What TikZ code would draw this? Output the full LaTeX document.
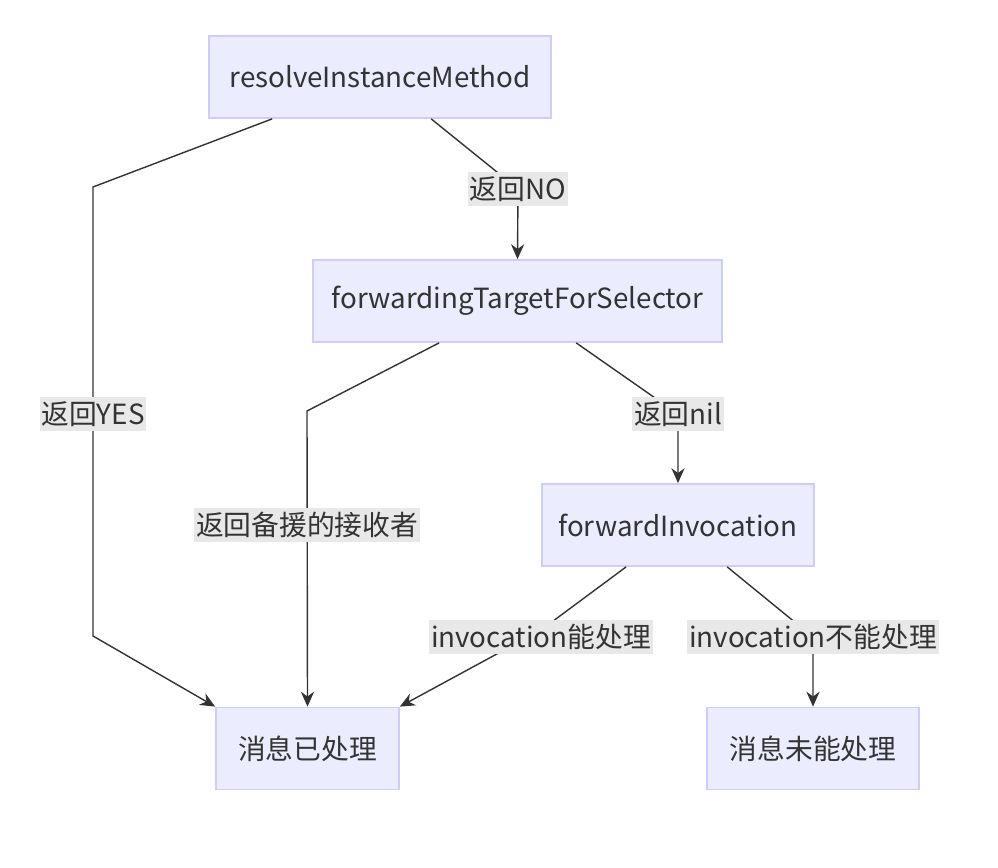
\documentclass[tikz,border=0pt]{standalone}
\usepackage{fontspec}
\setmainfont{Noto Sans CJK SC}
\usetikzlibrary{arrows.meta}
\definecolor{boxfill}{HTML}{ECECFF}
\definecolor{boxline}{HTML}{CCCCFF}
\definecolor{lblfill}{HTML}{E8E8E8}
\definecolor{ink}{HTML}{333333}
\begin{document}
\begin{tikzpicture}[x=0.02cm,y=-0.02cm,
    state/.style={draw=boxline,fill=boxfill,line width=1pt,text=ink,
      font=\fontsize{15.8}{19}\selectfont,minimum height=1.64cm,inner xsep=0pt},
    lbl/.style={fill=lblfill,text=ink,font=\fontsize{15.8}{19}\selectfont,
      inner xsep=1pt,inner ysep=0pt,minimum height=0.68cm},
    flow/.style={draw=ink,line width=0.8pt,-{Stealth[length=8.5pt,width=7.5pt]}}]
  \useasboundingbox (0,0) rectangle (998,868);
  % nodes
  \node[state,minimum width=6.84cm] (resolve) at (380,77) {resolveInstanceMethod};
  \node[state,minimum width=8.18cm] (target) at (517.5,301) {forwardingTargetForSelector};
  \node[state,minimum width=5.44cm] (invoke) at (678,525) {forwardInvocation};
  \node[state,minimum width=3.66cm] (done) at (307.5,748.5) {消息已处理};
  \node[state,minimum width=4.24cm] (undone) at (813,748.5) {消息未能处理};
  % edges
  \draw[flow] (resolve.south west) ++(64,0) -- (93,187) -- (93,636)
    node[lbl,pos=0.505] {返回YES} -- (done.north west);
  \draw[flow] (resolve.south west) ++(223,0) -- (518,189)
    node[lbl] {返回NO} -- (target.north);
  \draw[flow] (target.south west) ++(127,0) -- (307,411) -- (done.north)
    node[lbl,pos=0.385] {返回备援的接收者};
  \draw[flow] (target.south west) ++(264,0) -- (678,414)
    node[lbl] {返回nil} -- (invoke.north);
  \draw[flow] (invoke.south west) ++(85,0) -- (541,630) -- (done.north east);
  \node[lbl] (canlbl) at (541,637) {invocation能处理};
  \draw[flow] (invoke.south west) ++(186,0) -- (813,637)
    node[lbl] {invocation不能处理} -- (undone.north);
\end{tikzpicture}
\end{document}
